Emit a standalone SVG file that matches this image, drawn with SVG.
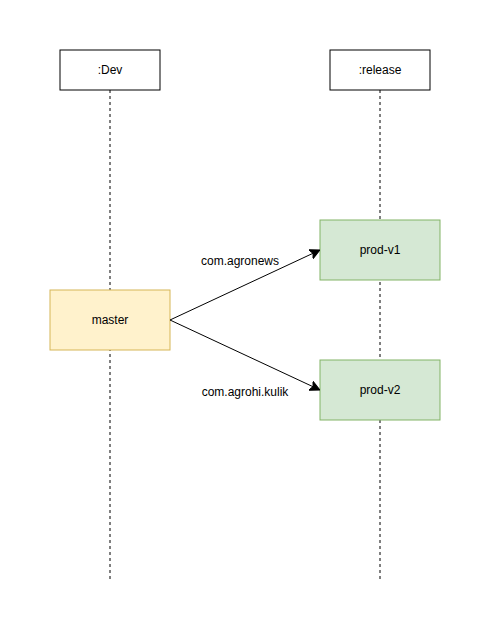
<svg xmlns="http://www.w3.org/2000/svg" width="491" height="631" viewBox="0 0 491 631">
  <style>
    text { font-family: "Liberation Sans", Arial, sans-serif; font-size: 12px; fill: #000; text-anchor: middle; dominant-baseline: central; }
    .actor { fill: #fff; stroke: #000; stroke-width: 1; }
    .life { stroke: #000; stroke-width: 1; stroke-dasharray: 3 3; fill: none; }
    .yellow { fill: #fff2cc; stroke: #d6b656; stroke-width: 1; }
    .green { fill: #d5e8d4; stroke: #82b366; stroke-width: 1; }
    .edge { stroke: #000; stroke-width: 1; fill: none; marker-end: url(#arrow); }
  </style>
  <defs>
    <marker id="arrow" viewBox="0 0 10 10" refX="9" refY="5" markerWidth="10" markerHeight="10" markerUnits="userSpaceOnUse" orient="auto">
      <path d="M0,0 L10,5 L0,10 L2.5,5 Z" fill="#000" stroke="#000" stroke-width="1"/>
    </marker>
  </defs>
  <rect width="491" height="631" fill="#fff"/>

  <g id="lifeline-dev">
    <line class="life" x1="110" y1="90" x2="110" y2="580"/>
    <rect class="actor" x="60" y="50" width="100" height="40"/>
    <text x="110" y="70">:Dev</text>
  </g>
  <g id="lifeline-release">
    <line class="life" x1="380" y1="90" x2="380" y2="580"/>
    <rect class="actor" x="330" y="50" width="100" height="40"/>
    <text x="380" y="70">:release</text>
  </g>

  <g id="master">
    <rect class="yellow" x="50" y="290" width="120" height="60"/>
    <text x="110" y="320">master</text>
  </g>
  <g id="prod-v1">
    <rect class="green" x="320" y="220" width="120" height="60"/>
    <text x="380" y="250">prod-v1</text>
  </g>
  <g id="prod-v2">
    <rect class="green" x="320" y="360" width="120" height="60"/>
    <text x="380" y="390">prod-v2</text>
  </g>

  <g id="connectors">
    <path class="edge" d="M170,320 L319,250.5"/>
    <path class="edge" d="M170,320 L319,389.5"/>
    <text x="240" y="261">com.agronews</text>
    <text x="245" y="392">com.agrohi.kulik</text>
  </g>
</svg>
